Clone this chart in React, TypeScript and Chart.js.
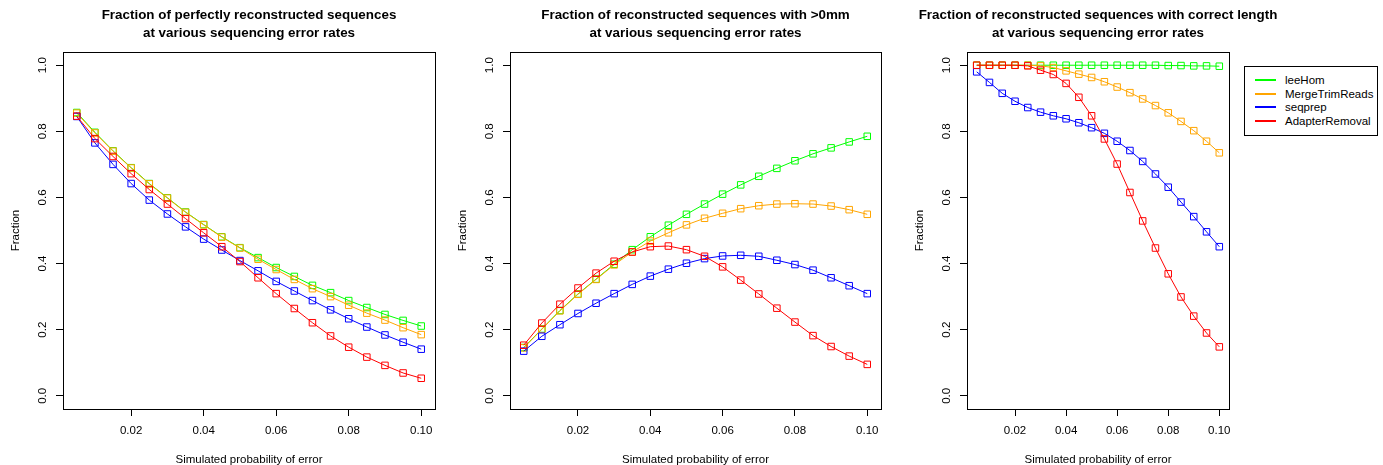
import React, { useEffect, useRef } from 'react';
import { Chart, registerables } from 'chart.js';

Chart.register(...registerables);

const FONT = "'Liberation Sans', Arial, Helvetica, sans-serif";

const errorRates = [0.005, 0.01, 0.015, 0.02, 0.025, 0.03, 0.035, 0.04, 0.045, 0.05, 0.055, 0.06, 0.065, 0.07, 0.075, 0.08, 0.085, 0.09, 0.095, 0.1];
const xTickValues = [0.02, 0.04, 0.06, 0.08, 0.1];
const yTickValues = [0, 0.2, 0.4, 0.6, 0.8, 1.0];

const seriesNames = ['leeHom', 'MergeTrimReads', 'seqprep', 'AdapterRemoval'];
const seriesColors = ['#00ff00', '#ffa500', '#0000ff', '#ff0000'];

// Panel 1: perfectly reconstructed
const perfectLeeHom = [0.857, 0.797, 0.741, 0.690, 0.642, 0.599, 0.556, 0.518, 0.481, 0.448, 0.418, 0.388, 0.361, 0.334, 0.312, 0.288, 0.267, 0.246, 0.228, 0.211];
const perfectMerge = [0.855, 0.795, 0.740, 0.689, 0.641, 0.598, 0.555, 0.517, 0.480, 0.447, 0.413, 0.382, 0.352, 0.324, 0.300, 0.274, 0.250, 0.229, 0.206, 0.185];
const perfectSeqprep = [0.845, 0.765, 0.700, 0.642, 0.592, 0.550, 0.511, 0.474, 0.441, 0.409, 0.378, 0.346, 0.317, 0.288, 0.260, 0.233, 0.208, 0.184, 0.162, 0.141];
const perfectAdapter = [0.846, 0.778, 0.724, 0.672, 0.624, 0.580, 0.536, 0.493, 0.451, 0.406, 0.357, 0.309, 0.264, 0.221, 0.181, 0.147, 0.117, 0.092, 0.069, 0.053];

// Panel 2: >0mm
const mmLeeHom = [0.146, 0.202, 0.258, 0.308, 0.353, 0.398, 0.442, 0.481, 0.516, 0.549, 0.580, 0.610, 0.638, 0.664, 0.688, 0.711, 0.732, 0.750, 0.768, 0.785];
const mmMerge = [0.145, 0.201, 0.257, 0.307, 0.352, 0.396, 0.435, 0.468, 0.493, 0.517, 0.537, 0.552, 0.566, 0.575, 0.580, 0.581, 0.580, 0.574, 0.563, 0.549];
const mmSeqprep = [0.135, 0.180, 0.215, 0.249, 0.280, 0.309, 0.337, 0.362, 0.383, 0.401, 0.415, 0.423, 0.425, 0.422, 0.410, 0.397, 0.380, 0.357, 0.333, 0.309];
const mmAdapter = [0.153, 0.220, 0.277, 0.326, 0.371, 0.407, 0.435, 0.451, 0.453, 0.442, 0.422, 0.390, 0.350, 0.308, 0.265, 0.223, 0.182, 0.149, 0.120, 0.095];

// Panel 3: correct length
const lenLeeHom = [1, 1, 1, 1, 1, 1, 1, 1, 1, 1, 1, 1, 1, 1, 1, 0.999, 0.999, 0.998, 0.998, 0.997];
const lenMerge = [1, 1, 1, 1, 1, 0.998, 0.993, 0.983, 0.973, 0.963, 0.950, 0.934, 0.917, 0.898, 0.878, 0.856, 0.830, 0.802, 0.770, 0.735];
const lenSeqprep = [0.980, 0.948, 0.915, 0.891, 0.872, 0.858, 0.847, 0.838, 0.826, 0.811, 0.794, 0.770, 0.742, 0.709, 0.671, 0.631, 0.586, 0.542, 0.496, 0.451];
const lenAdapter = [1, 1, 1, 1, 0.998, 0.985, 0.972, 0.945, 0.903, 0.847, 0.777, 0.701, 0.615, 0.529, 0.447, 0.369, 0.299, 0.241, 0.190, 0.148];

const panelTitles = [
  ['Fraction of perfectly reconstructed sequences', 'at various sequencing error rates'],
  ['Fraction of reconstructed sequences with >0mm', 'at various sequencing error rates'],
  ['Fraction of reconstructed sequences with correct length', 'at various sequencing error rates'],
];
const panelSeries = [
  [perfectLeeHom, perfectMerge, perfectSeqprep, perfectAdapter],
  [mmLeeHom, mmMerge, mmSeqprep, mmAdapter],
  [lenLeeHom, lenMerge, lenSeqprep, lenAdapter],
];
const xAxisTitle = 'Simulated probability of error';
const yAxisTitle = 'Fraction';

const panelLayout = [
  { left: 0, width: 498 },
  { left: 447, width: 497 },
  { left: 904, width: 388 },
];

const boxPlugin = {
  id: 'plotBox',
  afterDraw(chart: any) {
    const { ctx, chartArea } = chart;
    ctx.save();
    ctx.strokeStyle = '#000';
    ctx.lineWidth = 1;
    ctx.strokeRect(Math.round(chartArea.left) + 0.5, Math.round(chartArea.top) + 0.5,
      Math.round(chartArea.right - chartArea.left), Math.round(chartArea.bottom - chartArea.top));
    ctx.restore();
  },
};

function Panel({ idx }: { idx: number }) {
  const ref = useRef<HTMLCanvasElement>(null);
  useEffect(() => {
    const datasets = panelSeries[idx].map((vals, i) => ({
      label: seriesNames[i],
      data: errorRates.map((x, j) => ({ x, y: vals[j] })),
      borderColor: seriesColors[i],
      backgroundColor: 'rgba(0,0,0,0)',
      pointBorderColor: seriesColors[i],
      pointBackgroundColor: 'rgba(0,0,0,0)',
      pointStyle: 'rect',
      pointRadius: 4.6,
      pointBorderWidth: 1,
      borderWidth: 1,
      tension: 0,
      order: 3 - i,
    }));
    const chart = new Chart(ref.current!, {
      type: 'line',
      data: { datasets },
      plugins: [boxPlugin],
      options: {
        animation: false,
        responsive: false,
        events: [],
        layout: { padding: 0 },
        plugins: {
          legend: { display: false },
          tooltip: { enabled: false },
          title: {
            display: true,
            text: panelTitles[idx],
            color: '#000',
            font: { family: FONT, size: 13.4, weight: 'bold', lineHeight: '17.5px' },
            padding: { top: 7, bottom: 10 },
          },
        },
        scales: {
          x: {
            type: 'linear',
            min: 0.0012,
            max: 0.1038,
            afterBuildTicks: (s: any) => { s.ticks = xTickValues.map((v) => ({ value: v })); },
            afterFit: (s: any) => { s.height = 56; },
            ticks: {
              callback: (v: any) => Number(v).toFixed(2),
              color: '#000',
              font: { family: FONT, size: 11.5 },
              padding: 8,
              maxRotation: 0,
              autoSkip: false,
            },
            grid: { drawOnChartArea: false, drawTicks: true, tickLength: 7, color: '#000' },
            border: { display: false },
            title: {
              display: true,
              text: xAxisTitle,
              color: '#000',
              font: { family: FONT, size: 11.5, lineHeight: '11px' },
              padding: { top: 0, bottom: 0 },
            },
          },
          y: {
            type: 'linear',
            position: 'left',
            min: -0.04,
            max: 1.04,
            afterBuildTicks: (s: any) => { s.ticks = yTickValues.map((v) => ({ value: v })); },
            afterFit: (s: any) => { s.width = 63; },
            ticks: {
              callback: (v: any) => Number(v).toFixed(1),
              color: '#000',
              font: { family: FONT, size: 11.5 },
              padding: 5,
              minRotation: 90,
              maxRotation: 90,
              crossAlign: 'center',
              autoSkip: false,
            },
            grid: { drawOnChartArea: false, drawTicks: true, tickLength: 7, color: '#000' },
            border: { display: false },
            title: {
              display: true,
              text: yAxisTitle,
              color: '#000',
              font: { family: FONT, size: 11.5 },
              padding: { top: 9, bottom: 0 },
            },
          },
          // empty right-hand margin so the title centres over the plot box
          yMargin: {
            type: 'linear',
            position: 'right',
            min: 0,
            max: 1,
            afterFit: (s: any) => { s.width = 63; },
            ticks: { display: false },
            grid: { display: false },
            border: { display: false },
          },
        },
      } as any,
    });
    return () => chart.destroy();
  }, [idx]);
  const lay = panelLayout[idx];
  return (
    <canvas
      ref={ref}
      width={lay.width}
      height={465}
      style={{ position: 'absolute', left: lay.left, top: 0, width: lay.width, height: 465 }}
    />
  );
}

function Legend() {
  return (
    <div
      style={{
        position: 'absolute', left: 1244, top: 66, width: 134, height: 70,
        border: '1px solid #000', boxSizing: 'border-box', background: '#fff',
        fontFamily: FONT, fontSize: 11.5, color: '#000',
      }}
    >
      {seriesNames.map((name, i) => (
        <div key={name} style={{ position: 'absolute', left: 0, top: 6 + i * 13.7, height: 14, width: 133 }}>
          <div style={{ position: 'absolute', left: 10, top: 6, width: 21, height: 2, background: seriesColors[i] }} />
          <div style={{ position: 'absolute', left: 40, top: 0, lineHeight: '14px', whiteSpace: 'nowrap' }}>{name}</div>
        </div>
      ))}
    </div>
  );
}

export default function App() {
  return (
    <div style={{ position: 'fixed', left: 0, top: 0, width: 1383, height: 465, background: '#fff' }}>
      <Panel idx={0} />
      <Panel idx={1} />
      <Panel idx={2} />
      <Legend />
    </div>
  );
}
